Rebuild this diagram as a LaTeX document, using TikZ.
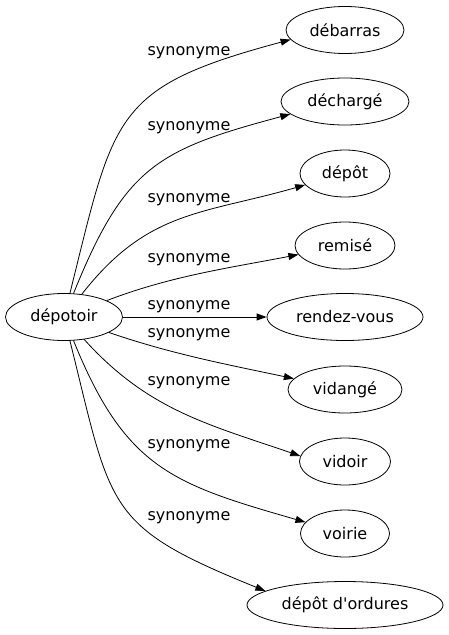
\documentclass[tikz,border=0pt]{standalone}
\usepackage{fontspec}
\setmainfont{DejaVu Sans}
\usetikzlibrary{shapes.geometric,arrows.meta}

\begin{document}
\begin{tikzpicture}[x=1pt,y=1pt,
  term/.style={ellipse,draw,line width=0.8pt,minimum height=47pt,inner sep=0pt,font=\fontsize{16}{19}\selectfont},
  syn/.style={inner sep=0pt,font=\fontsize{16}{19}\selectfont},
  rel/.style={line width=0.8pt,-{Triangle[length=10pt,width=7pt]}}]
\useasboundingbox (0,0) rectangle (448,-635);

\node[term,minimum width=117pt] (dep) at (64,-317) {dépotoir};

\node[term,minimum width=118pt] (deb) at (345,-30) {débarras};
\node[term,minimum width=128pt] (dech) at (345,-101.5) {déchargé};
\node[term,minimum width=90pt] (depot) at (345,-173.5) {dépôt};
\node[term,minimum width=100pt] (rem) at (345,-245.5) {remisé};
\node[term,minimum width=156pt] (rdv) at (345,-317) {rendez-vous};
\node[term,minimum width=114pt] (vid) at (345,-389.5) {vidangé};
\node[term,minimum width=91pt] (vidr) at (345,-461.5) {vidoir};
\node[term,minimum width=89pt] (voi) at (345,-533.5) {voirie};
\node[term,minimum width=196pt] (dord) at (345,-605) {dépôt d\textquotesingle ordures};

\draw[rel] (dep) to[out=76,in=195,looseness=1.4] (deb.190);
\draw[rel] (dep) to[out=68,in=195,looseness=1.25] (dech.193);
\draw[rel] (dep) to[out=52,in=196,looseness=1.1] (depot);
\draw[rel] (dep) to[out=21,in=191,looseness=0.9] (rem);
\draw[rel] (dep) -- (rdv);
\draw[rel] (dep) to[out=-19,in=168,looseness=0.9] (vid);
\draw[rel] (dep) to[out=-48,in=161] (vidr.173);
\draw[rel] (dep) to[out=-68,in=164,looseness=1.2] (voi);
\draw[rel] (dep) to[out=-76,in=158,looseness=1.4] (dord.170);

\node[syn] (s1) at (189,-52.5) {synonyme};
\node[syn] (s2) at (189,-127.5) {synonyme};
\node[syn] (s3) at (189,-199.5) {synonyme};
\node[syn] (s4) at (189,-259.5) {synonyme};
\node[syn] (s5) at (189,-306.5) {synonyme};
\node[syn] (s6) at (189,-335) {synonyme};
\node[syn] (s7) at (189,-382.5) {synonyme};
\node[syn] (s8) at (189,-445.5) {synonyme};
\node[syn] (s9) at (189,-517.5) {synonyme};
\end{tikzpicture}
\end{document}
